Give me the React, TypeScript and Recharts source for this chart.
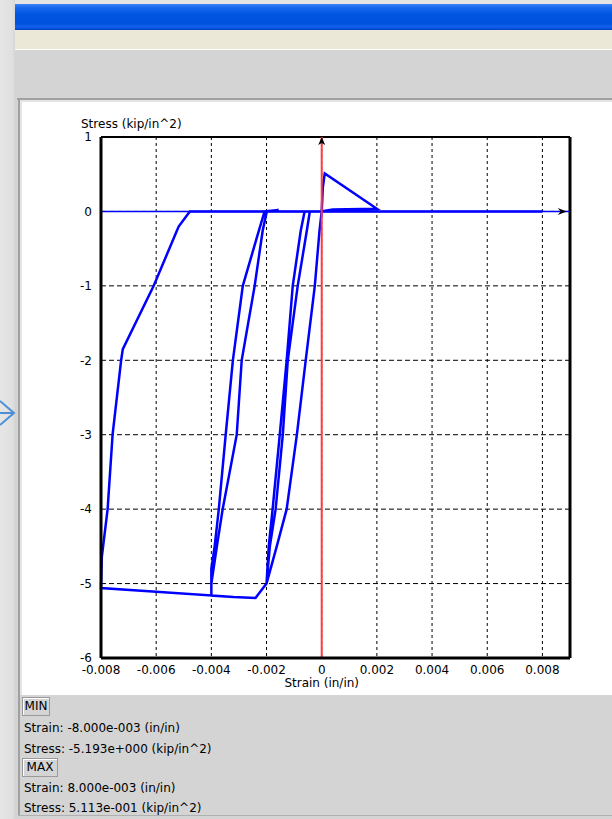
import { CartesianGrid, Label, Line, LineChart, ReferenceDot, ReferenceLine, XAxis, YAxis } from 'recharts';

// strain / stress path, in drawing order (in/in, kip/in^2)
const strain = [
  0, 0.00004, 0.00011, 0.002, 0.0004, 0,
  -0.00008, -0.00025, -0.00058, -0.0009, -0.00127, -0.00163, -0.002,
  -0.00192, -0.00178, -0.00152, -0.00127, -0.00105, -0.00076, -0.00062,
  -0.00043, -0.00054, -0.00087, -0.00123, -0.00141, -0.00167, -0.00188, -0.002,
  -0.0024, -0.0032, -0.004,
  -0.004, -0.00388, -0.00373, -0.00348, -0.00322, -0.00286, -0.00228, -0.00207,
  -0.00156, -0.00199,
  -0.00214, -0.00243, -0.0029, -0.00308, -0.00359, -0.0038, -0.004, -0.004,
  -0.006, -0.008,
  -0.00797, -0.00776, -0.00758, -0.00727, -0.00721, -0.00609, -0.00525, -0.00518, -0.00478,
  0.008,
];
const stress = [
  0, 0.32, 0.511, 0.035, 0.025, 0,
  -0.26, -1, -2, -3, -4, -4.5, -5.0,
  -4.5, -4, -3, -2, -1, -0.26, 0,
  0, -0.26, -1, -2, -3, -4, -4.5, -5.0,
  -5.193, -5.18, -5.16,
  -4.8, -4.5, -4, -3, -2, -1, -0.26, 0,
  0.02, 0,
  -0.26, -1, -2, -3, -4, -4.5, -5.0, -5.16,
  -5.11, -5.06,
  -4.64, -4, -3, -2, -1.85, -1, -0.26, -0.2, 0,
  0,
];

const xTicks = [-0.008, -0.006, -0.004, -0.002, 0, 0.002, 0.004, 0.006, 0.008];
const yTicks = [-6, -5, -4, -3, -2, -1, 0, 1];

const minReadout = ['Strain: -8.000e-003 (in/in)', 'Stress: -5.193e+000 (kip/in^2)'];
const maxReadout = ['Strain: 8.000e-003 (in/in)', 'Stress: 5.113e-001 (kip/in^2)'];

const data = strain.map((s, i) => ({ strain: s, stress: stress[i] }));

const FONT = '"DejaVu Sans", sans-serif';

function fmtStrain(v: number) {
  return v === 0 ? '0' : v.toFixed(3);
}

function UpArrow(props: any) {
  const { cx, cy } = props;
  return <path d={`M${cx},${cy} L${cx - 3.5},${cy + 8} L${cx},${cy + 6} L${cx + 3.5},${cy + 8} Z`} fill="#000" />;
}

function RightArrow(props: any) {
  const { cx, cy } = props;
  return <path d={`M${cx},${cy} L${cx - 9},${cy - 3.5} L${cx - 6},${cy} L${cx - 9},${cy + 3.5} Z`} fill="#000" />;
}

function StressTitle(props: any) {
  const vb = props.viewBox;
  return (
    <text x={vb.x + 10} y={vb.y - 9} fontSize={12} fontFamily={FONT} fill="#000">
      Stress (kip/in^2)
    </text>
  );
}

function Button({ label, top, width }: { label: string; top: number; width: number }) {
  return (
    <div
      style={{
        position: 'absolute',
        left: 22,
        top,
        width,
        height: 17,
        border: '1px solid #9a9a9a',
        boxShadow: 'inset 1px 1px #fff',
        fontSize: 12,
        lineHeight: '17px',
        textAlign: 'center',
        background: '#d4d4d4',
      }}
    >
      {label}
    </div>
  );
}

function ReadoutLine({ text, top }: { text: string; top: number }) {
  return (
    <div style={{ position: 'absolute', left: 24, top, fontSize: 12, lineHeight: '14px', whiteSpace: 'nowrap' }}>{text}</div>
  );
}

export default function App() {
  return (
    <div
      style={{
        position: 'absolute',
        left: 0,
        top: 0,
        width: 612,
        height: 819,
        overflow: 'hidden',
        background: '#d4d4d4',
        fontFamily: FONT,
        color: '#000',
      }}
    >
      {/* window chrome */}
      <div style={{ position: 'absolute', left: 0, top: 0, width: 15, height: 819, background: 'linear-gradient(90deg,#e6e6e6,#e0e0e0 80%,#d6d6d6)' }} />
      <div style={{ position: 'absolute', left: 15, top: 0, width: 597, height: 4, background: '#e4e4e4' }} />
      <div
        style={{
          position: 'absolute',
          left: 15,
          top: 4,
          width: 597,
          height: 26,
          background: 'linear-gradient(180deg,#3a82f6 0%,#1566ee 15%,#0055e0 40%,#0052dc 75%,#1262ee 88%,#0040c0 100%)',
        }}
      />
      <div style={{ position: 'absolute', left: 15, top: 30, width: 597, height: 19, background: '#ebe8d8' }} />
      <div style={{ position: 'absolute', left: 15, top: 49, width: 597, height: 1, background: '#fff' }} />
      <div style={{ position: 'absolute', left: 17, top: 98, width: 600, height: 2, background: '#a0a0a0' }} />
      <div style={{ position: 'absolute', left: 18, top: 98, width: 2, height: 718, background: '#a0a0a0' }} />
      <div style={{ position: 'absolute', left: 20, top: 100, width: 600, height: 595, background: '#e4e4e4' }} />
      <div style={{ position: 'absolute', left: 22, top: 102, width: 600, height: 593, background: '#fff' }} />
      <div style={{ position: 'absolute', left: 18, top: 815, width: 600, height: 1, background: '#b0b0b0' }} />

      <svg style={{ position: 'absolute', left: 0, top: 398 }} width={16} height={30}>
        <polyline points="0,3 14,15 0,27" fill="none" stroke="#4a8fd8" strokeWidth={2} />
        <line x1={0} y1={15} x2={13} y2={15} stroke="#4a8fd8" strokeWidth={2} />
      </svg>

      <div style={{ position: 'absolute', left: 0, top: 0 }}>
        <LineChart width={612} height={700} data={data} margin={{ top: 137, right: 42, bottom: 12, left: 71 }}>
          <CartesianGrid horizontal={false} stroke="#000" strokeDasharray="3 3" />
          <CartesianGrid vertical={false} stroke="#000" strokeDasharray="5 3" />
          <XAxis
            type="number"
            dataKey="strain"
            domain={[-0.008, 0.009]}
            ticks={xTicks}
            interval={0}
            height={30}
            tickSize={5}
            tickMargin={2}
            tickLine={false}
            tickFormatter={fmtStrain}
            axisLine={{ stroke: '#000', strokeWidth: 3 }}
            tick={{ fill: '#000', fontSize: 12, fontFamily: FONT }}
          />
          <YAxis
            type="number"
            domain={[-6, 1]}
            ticks={yTicks}
            interval={0}
            width={30}
            tickSize={7}
            tickMargin={2}
            tickLine={false}
            axisLine={{ stroke: '#000', strokeWidth: 3 }}
            tick={{ fill: '#000', fontSize: 12, fontFamily: FONT }}
          >
            <Label content={StressTitle} />
          </YAxis>
          <ReferenceLine y={1} stroke="#000" strokeWidth={2} />
          <ReferenceLine x={0.009} stroke="#000" strokeWidth={3} />
          <ReferenceLine y={0} stroke="#0000ff" strokeWidth={1.5} />
          <Line
            type="linear"
            dataKey="stress"
            stroke="#0000ff"
            strokeWidth={2.5}
            dot={false}
            activeDot={false}
            isAnimationActive={false}
          />
          <ReferenceLine x={0} stroke="#ff3b3b" strokeWidth={2}>
            <Label value="Strain (in/in)" position="bottom" offset={20} fill="#000" fontSize={12} fontFamily={FONT} />
          </ReferenceLine>
          <ReferenceDot x={0} y={1} r={0} shape={UpArrow} />
          <ReferenceDot x={0.00888} y={0} r={0} shape={RightArrow} />
        </LineChart>
      </div>

      <Button label="MIN" top={697} width={26} />
      <ReadoutLine text={minReadout[0]} top={721} />
      <ReadoutLine text={minReadout[1]} top={742} />
      <Button label="MAX" top={758} width={34} />
      <ReadoutLine text={maxReadout[0]} top={781} />
      <ReadoutLine text={maxReadout[1]} top={801} />
    </div>
  );
}
